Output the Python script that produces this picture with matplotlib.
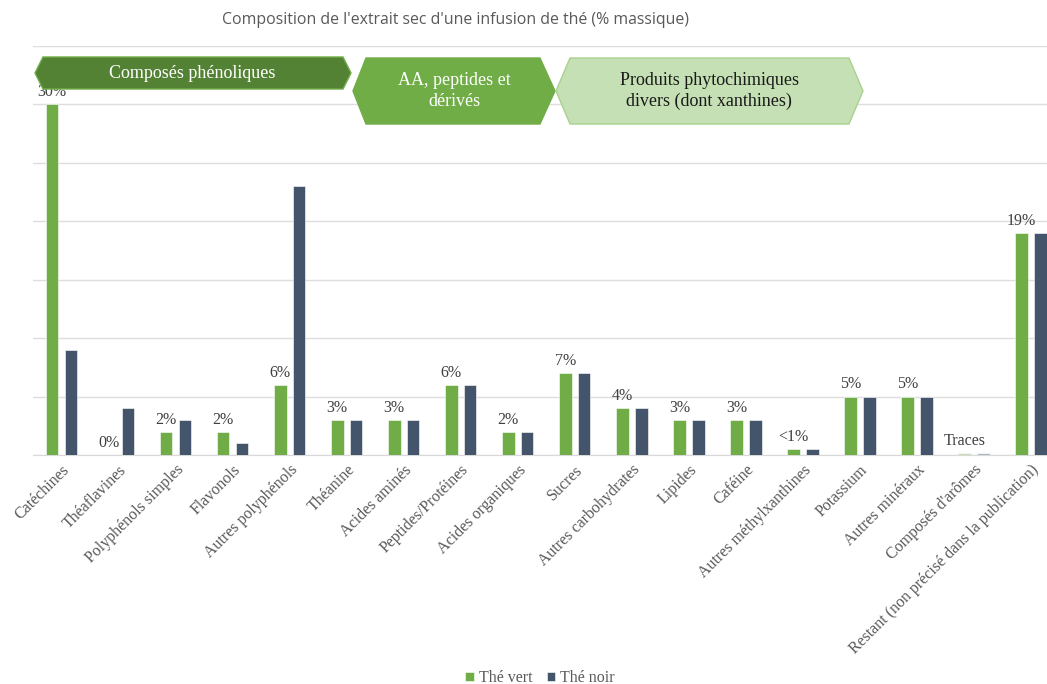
import matplotlib.pyplot as plt
from matplotlib.patches import Polygon
import numpy as np

# donnees (% massique de l'extrait sec)
categories = ["Catéchines", "Théaflavines", "Polyphénols simples", "Flavonols",
              "Autres polyphénols", "Théanine", "Acides aminés", "Peptides/Protéines",
              "Acides organiques", "Sucres", "Autres carbohydrates", "Lipides",
              "Caféine", "Autres méthylxanthines", "Potassium", "Autres minéraux",
              "Composés d'arômes", "Restant (non précisé dans la publication)"]
the_vert = [30, 0, 2, 2, 6, 3, 3, 6, 2, 7, 4, 3, 3, 0.5, 5, 5, 0.15, 19]
the_noir = [9, 4, 3, 1, 23, 3, 3, 6, 2, 7, 4, 3, 3, 0.5, 5, 5, 0.15, 19]
labels_vert = ["30%", "0%", "2%", "2%", "6%", "3%", "3%", "6%", "2%", "7%", "4%",
               "3%", "3%", "<1%", "5%", "5%", "Traces", "19%"]

W, H = 1047, 684
GREEN = "#70ad47"
NAVY = "#44546a"
SERIF = "Liberation Serif"

fig = plt.figure(figsize=(W / 100, H / 100), dpi=100)
ax = fig.add_axes([33 / W, 1 - 455 / H, 1 - 33 / W, (455 - 46) / H])

x = np.arange(len(categories))
c_vert = [GREEN] * len(x)
c_noir = [NAVY] * len(x)
c_vert[16] = "#c5e0b4"   # traces -> couleurs pales
c_noir[16] = "#adb9ca"
b1 = ax.bar(x - 0.165, the_vert, 0.22, color=c_vert, edgecolor="white", linewidth=0.4,
            label="Thé vert", zorder=3)
b2 = ax.bar(x + 0.165, the_noir, 0.22, color=c_noir, edgecolor="white", linewidth=0.4,
            label="Thé noir", zorder=3)

for i, lab in enumerate(labels_vert):
    ax.text(x[i] - 0.165, the_vert[i] + 0.35, lab, ha="center", va="bottom",
            fontsize=11.5, family=SERIF, color="#404040", zorder=4)

ax.set_xlim(-0.5, 17.28)
ax.set_ylim(0, 35)
ax.set_yticks(np.arange(0, 36, 5))
ax.set_yticklabels([])
ax.tick_params(axis="y", length=0)
ax.tick_params(axis="x", length=0, pad=5)
ax.grid(axis="y", color="#dedede", linewidth=1, zorder=0)
for s in ["top", "right", "left"]:
    ax.spines[s].set_visible(False)
ax.spines["bottom"].set_color("#d9d9d9")
ax.set_xticks(x)
ax.set_xticklabels(categories, rotation=45, ha="right", va="top", rotation_mode="anchor",
                   fontsize=11.5, family=SERIF, color="#595959")

fig.text(455 / W, 1 - 20 / H, "Composition de l'extrait sec d'une infusion de thé (% massique)",
         ha="center", va="center", fontsize=11.4, family="Open Sans", color="#595959")

# bandeaux de groupes (coordonnees en pixels de la figure)
def px(pts):
    return [(a / W, 1 - b / H) for a, b in pts]

bandeaux = [
    ([(35, 73), (43, 57), (343, 57), (351, 73), (343, 89), (43, 89)], "#548235", "#70ad47",
     "Composés phénoliques", "white", (192, 74)),
    ([(353, 91), (366, 58), (540, 58), (555, 91), (540, 124), (366, 124)], GREEN, "#70ad47",
     "AA, peptides et\ndérivés", "white", (454, 91)),
    ([(556, 91), (570, 58), (849, 58), (863, 91), (849, 124), (570, 124)], "#c5e0b4", "#a9d18e",
     "Produits phytochimiques\ndivers (dont xanthines)", "#1a1a1a", (709, 91)),
]
for pts, fc, ec, txt, tc, (tx, ty) in bandeaux:
    fig.patches.append(Polygon(px(pts), closed=True, transform=fig.transFigure,
                               facecolor=fc, edgecolor=ec, linewidth=1, zorder=10))
    fig.text(tx / W, 1 - ty / H, txt, ha="center", va="center", fontsize=13,
             family=SERIF, color=tc, linespacing=1.3, zorder=11)

leg = fig.legend(handles=[b1[0], b2[0]], labels=["Thé vert", "Thé noir"],
                 loc="center", bbox_to_anchor=(540 / W, 1 - 678 / H), ncol=2, frameon=False,
                 handlelength=0.55, handleheight=0.55, handletextpad=0.3, columnspacing=0.9,
                 prop={"family": SERIF, "size": 11.5})
for t in leg.get_texts():
    t.set_color("#595959")

fig.savefig("out.png", dpi=100)
